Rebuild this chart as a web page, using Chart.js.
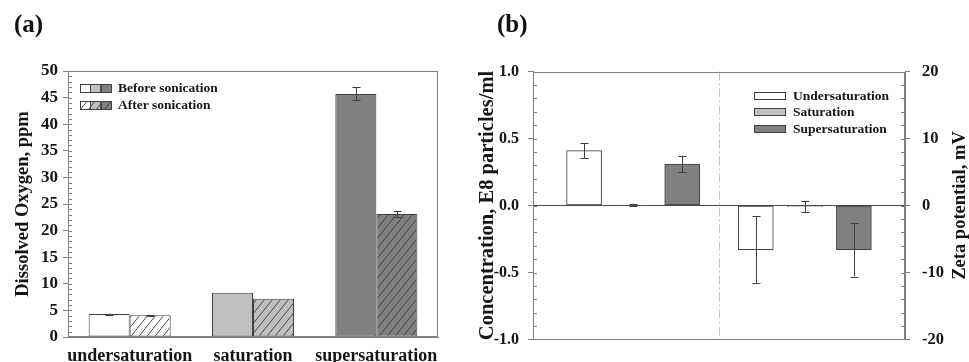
<!DOCTYPE html>
<html lang="en">
<head>
  <meta charset="UTF-8">
  <title>Dissolved oxygen and bubble concentration</title>
  <script src="https://cdn.jsdelivr.net/npm/chart.js"></script>
  <style>
    body {
      margin: 0;
      background: #fff;
      font-family: 'Liberation Serif', 'Times New Roman', serif;
    }
    .wrap { position: relative; width: 969px; height: 362px; overflow: hidden; }
    .panel { position: absolute; top: 0; height: 362px; }
    #panelA { left: 0; width: 470px; }
    #panelB { left: 470px; width: 499px; }
    .tag {
      position: absolute;
      top: 11px;
      font-size: 25px;
      line-height: 25px;
      font-weight: 700;
      color: #111;
    }
  </style>
</head>
<body>
  <div class="wrap">
    <div id="panelA" class="panel"><canvas id="doChart" width="470" height="362"></canvas></div>
    <div id="panelB" class="panel"><canvas id="zetaChart" width="499" height="362"></canvas></div>
    <div class="tag" style="left:14px">(a)</div>
    <div class="tag" style="left:497px">(b)</div>
  </div>

  <script>
    // ---- panel (a) data ----
    const doCategories = ['undersaturation', 'saturation', 'supersaturation'];
    const doBefore = [4.3, 8.3, 45.7];
    const doBeforeErr = [0.1, 0, 1.2];
    const doAfter = [4.1, 7.2, 23.1];
    const doAfterErr = [0.08, 0, 0.6];
    const doTicks = [0, 5, 10, 15, 20, 25, 30, 35, 40, 45, 50];

    // ---- panel (b) data ----
    const groups = ['Undersaturation', 'Saturation', 'Supersaturation'];
    const concentration = [0.41, 0.004, 0.31];
    const concentrationErr = [0.055, 0.01, 0.062];
    const zeta = [-6.6, -0.15, -6.6];
    const zetaErr = [5.0, 0.85, 4.0];
    const concTicks = [-1.0, -0.5, 0.0, 0.5, 1.0];
    const zetaTicks = [-20, -10, 0, 10, 20];

    const fills = ['#ffffff', '#c0c0c0', '#808080'];
    const edge = '#404040';
    const axisGray = '#808080';
    const ink = '#151515';
    const serif = "'Liberation Serif', 'Times New Roman', serif";

    Chart.defaults.font.family = serif;
    Chart.defaults.font.weight = 'bold';
    Chart.defaults.color = ink;

    // diagonal hatch on a given background
    function hatch(bg) {
      const w = 8, h = 10;
      const c = document.createElement('canvas');
      c.width = w; c.height = h;
      const g = c.getContext('2d');
      g.fillStyle = bg;
      g.fillRect(0, 0, w, h);
      g.strokeStyle = '#3a3a3a';
      g.lineWidth = 0.9;
      g.beginPath();
      g.moveTo(0, h); g.lineTo(w, 0);
      g.moveTo(-w, h); g.lineTo(0, 0);
      g.moveTo(w, h); g.lineTo(2 * w, 0);
      g.stroke();
      return g.createPattern(c, 'repeat');
    }
    const hatched = fills.map(hatch);

    // frame around the plot area
    const framePlugin = {
      id: 'frame',
      afterDraw(chart) {
        const { ctx, chartArea: a } = chart;
        ctx.save();
        ctx.strokeStyle = axisGray;
        ctx.lineWidth = 1;
        const l = Math.round(a.left) + 0.5, t = Math.round(a.top) + 0.5;
        const r = Math.round(a.right) - 0.5, b = Math.round(a.bottom) - 0.5;
        ctx.strokeRect(l, t, r - l, b - t);
        ctx.restore();
      }
    };

    // small inward ticks between the labelled ones
    const minorTickPlugin = {
      id: 'minorTicks',
      afterDraw(chart, args, opts) {
        const { ctx, chartArea: a } = chart;
        ctx.save();
        ctx.strokeStyle = axisGray;
        ctx.lineWidth = 1;
        Object.keys(opts.steps || {}).forEach(id => {
          const s = chart.scales[id];
          const step = opts.steps[id];
          const x0 = s.position === 'left' ? Math.round(a.left) : Math.round(a.right);
          const dir = s.position === 'left' ? 1 : -1;
          const n = Math.round((s.max - s.min) / step);
          for (let k = 1; k < n; k++) {
            const y = Math.round(s.getPixelForValue(s.min + k * step)) + 0.5;
            ctx.beginPath();
            ctx.moveTo(x0, y);
            ctx.lineTo(x0 + dir * 4, y);
            ctx.stroke();
          }
        });
        ctx.restore();
      }
    };

    // error bars from dataset.errors
    const errorBarPlugin = {
      id: 'errorBars',
      afterDatasetsDraw(chart, args, opts) {
        const { ctx } = chart;
        const cap = opts.cap || 4;
        ctx.save();
        ctx.strokeStyle = edge;
        ctx.lineWidth = 1;
        chart.data.datasets.forEach((ds, di) => {
          if (!ds.errors) return;
          const meta = chart.getDatasetMeta(di);
          const scale = chart.scales[meta.yAxisID];
          meta.data.forEach((bar, i) => {
            const e = ds.errors[i];
            if (!e) return;
            const raw = ds.data[i];
            const v = typeof raw === 'object' ? raw.y : raw;
            const x = Math.round(bar.x) + 0.5;
            const y1 = scale.getPixelForValue(v + e);
            const y2 = scale.getPixelForValue(v - e);
            ctx.beginPath();
            ctx.moveTo(x, y1); ctx.lineTo(x, y2);
            ctx.moveTo(x - cap, Math.round(y1) + 0.5); ctx.lineTo(x + cap, Math.round(y1) + 0.5);
            ctx.moveTo(x - cap, Math.round(y2) + 0.5); ctx.lineTo(x + cap, Math.round(y2) + 0.5);
            ctx.stroke();
          });
        });
        ctx.restore();
      }
    };

    // legend drawn inside the plot: each row has a strip of swatches and a label
    const boxLegendPlugin = {
      id: 'boxLegend',
      afterDraw(chart, args, opts) {
        if (!opts.rows) return;
        const { ctx, chartArea: a } = chart;
        ctx.save();
        ctx.font = `bold ${opts.fontSize}px ${serif}`;
        ctx.textBaseline = 'middle';
        ctx.fillStyle = ink;
        opts.rows.forEach((row, r) => {
          const x = Math.round(a.left + opts.dx);
          const y = Math.round(a.top + opts.dy + r * opts.rowGap);
          const bw = opts.boxW / row.fills.length;
          row.fills.forEach((f, k) => {
            ctx.fillStyle = f;
            ctx.fillRect(x + k * bw, y, bw, opts.boxH);
            ctx.strokeStyle = edge;
            ctx.strokeRect(Math.round(x + k * bw) + 0.5, y + 0.5, Math.round(bw), opts.boxH);
          });
          ctx.fillStyle = ink;
          ctx.fillText(row.label, x + opts.boxW + opts.gap, y + opts.boxH / 2 + 1);
        });
        ctx.restore();
      }
    };

    // vertical dash-dot separator
    const dividerPlugin = {
      id: 'divider',
      beforeDatasetsDraw(chart, args, opts) {
        if (opts.at === undefined) return;
        const { ctx, chartArea: a } = chart;
        const x = Math.round(chart.scales.x.getPixelForValue(opts.at)) + 0.5;
        ctx.save();
        ctx.strokeStyle = '#c4c4c4';
        ctx.lineWidth = 1;
        ctx.setLineDash([9, 3, 2, 3]);
        ctx.beginPath();
        ctx.moveTo(x, a.top);
        ctx.lineTo(x, a.bottom);
        ctx.stroke();
        ctx.restore();
      }
    };

    // right-hand axis title, read bottom to top like the left one
    const sideTitlePlugin = {
      id: 'sideTitle',
      afterDraw(chart, args, opts) {
        if (!opts.text) return;
        const { ctx } = chart;
        const s = chart.scales[opts.scale];
        ctx.save();
        ctx.translate(chart.width - opts.inset, (s.top + s.bottom) / 2);
        ctx.rotate(-Math.PI / 2);
        ctx.font = `bold ${opts.size}px ${serif}`;
        ctx.fillStyle = ink;
        ctx.textAlign = 'center';
        ctx.textBaseline = 'middle';
        ctx.fillText(opts.text, 0, 0);
        ctx.restore();
      }
    };

    // ---------------- panel (a) ----------------
    new Chart(document.getElementById('doChart'), {
      type: 'bar',
      data: {
        labels: doCategories,
        datasets: [
          { label: 'Before sonication', data: doBefore, errors: doBeforeErr, backgroundColor: fills },
          { label: 'After sonication', data: doAfter, errors: doAfterErr, backgroundColor: hatched }
        ]
      },
      options: {
        responsive: false,
        animation: false,
        layout: { padding: { top: 71, right: 32, left: 0, bottom: 0 } },
        datasets: {
          bar: {
            categoryPercentage: 0.665,
            barPercentage: 1,
            borderColor: edge,
            borderWidth: 1,
            borderSkipped: false
          }
        },
        scales: {
          x: {
            grid: { display: false, drawTicks: false },
            border: { color: axisGray },
            ticks: {
              font: { size: 18, weight: 'bold' },
              padding: 9,
              maxRotation: 0,
              minRotation: 0,
              autoSkip: false
            },
            afterFit: s => { s.height = 25; s.paddingLeft = 0; s.paddingRight = 0; }
          },
          y: {
            min: 0,
            max: 50,
            afterBuildTicks: s => { s.ticks = doTicks.map(v => ({ value: v })); },
            ticks: { font: { size: 17, weight: 'bold' }, padding: 5 },
            grid: { drawOnChartArea: false, tickLength: 5, tickColor: axisGray },
            border: { color: axisGray },
            title: {
              display: true,
              text: 'Dissolved Oxygen, ppm',
              font: { size: 18.5, weight: 'bold', lineHeight: 1 },
              padding: { top: 14, bottom: 0 }
            },
            afterFit: s => { s.width = 68; }
          }
        },
        plugins: {
          legend: { display: false },
          tooltip: { enabled: false },
          minorTicks: { steps: { y: 1 } },
          errorBars: { cap: 4 },
          boxLegend: {
            rows: [
              { label: 'Before sonication', fills: fills },
              { label: 'After sonication', fills: hatched }
            ],
            dx: 12, dy: 13, rowGap: 17, boxW: 31, boxH: 8, gap: 7, fontSize: 13.5
          }
        }
      },
      plugins: [framePlugin, minorTickPlugin, errorBarPlugin, boxLegendPlugin]
    });

    // ---------------- panel (b) ----------------
    // left half: concentration (left axis), right half: zeta potential (right axis)
    const slot = (side, i) => side * 3.5 + i + 0.5;
    const zetaDatasets = [];
    groups.forEach((g, i) => {
      zetaDatasets.push({
        label: g,
        data: [{ x: slot(0, i), y: concentration[i] }],
        errors: [concentrationErr[i]],
        yAxisID: 'y',
        backgroundColor: fills[i]
      });
    });
    groups.forEach((g, i) => {
      zetaDatasets.push({
        label: g,
        data: [{ x: slot(1, i), y: zeta[i] }],
        errors: [zetaErr[i]],
        yAxisID: 'y2',
        backgroundColor: fills[i]
      });
    });

    new Chart(document.getElementById('zetaChart'), {
      type: 'bar',
      data: { datasets: zetaDatasets },
      options: {
        responsive: false,
        animation: false,
        layout: { padding: { top: 71.5, bottom: 22.5, left: 0, right: 0 } },
        datasets: {
          bar: {
            grouped: false,
            barThickness: 35,
            borderColor: edge,
            borderWidth: 1,
            borderSkipped: false
          }
        },
        scales: {
          x: { type: 'linear', min: 0, max: slot(1, 2) + 0.5, display: false },
          y: {
            position: 'left',
            min: -1,
            max: 1,
            afterBuildTicks: s => { s.ticks = concTicks.map(v => ({ value: v })); },
            ticks: { font: { size: 16, weight: 'bold' }, padding: 9, callback: v => v.toFixed(1) },
            grid: {
              drawOnChartArea: true,
              tickLength: 5,
              tickColor: axisGray,
              color: c => (c.tick && c.tick.value === 0 ? '#4a4a4a' : 'rgba(0,0,0,0)')
            },
            border: { color: axisGray },
            title: {
              display: true,
              text: 'Concentration, E8 particles/ml',
              font: { size: 20.5, weight: 'bold', lineHeight: 1 },
              padding: { top: 7, bottom: 0 }
            },
            afterFit: s => { s.width = 63; }
          },
          y2: {
            position: 'right',
            min: -20,
            max: 20,
            afterBuildTicks: s => { s.ticks = zetaTicks.map(v => ({ value: v })); },
            ticks: { font: { size: 16.5, weight: 'bold' }, padding: 12 },
            grid: { drawOnChartArea: false, tickLength: 5, tickColor: axisGray },
            border: { color: axisGray },
            afterFit: s => { s.width = 64; }
          }
        },
        plugins: {
          legend: { display: false },
          tooltip: { enabled: false },
          minorTicks: { steps: { y: 0.1, y2: 2 } },
          errorBars: { cap: 4 },
          divider: { at: (slot(0, 2) + slot(1, 0)) / 2 },
          sideTitle: { text: 'Zeta potential, mV', scale: 'y2', inset: 9, size: 18.5 },
          boxLegend: {
            rows: groups.map((g, i) => ({ label: g, fills: [fills[i]] })),
            dx: 221, dy: 20, rowGap: 16.7, boxW: 31, boxH: 7, gap: 8, fontSize: 13.5
          }
        }
      },
      plugins: [framePlugin, minorTickPlugin, errorBarPlugin, boxLegendPlugin, dividerPlugin, sideTitlePlugin]
    });
  </script>
</body>
</html>
